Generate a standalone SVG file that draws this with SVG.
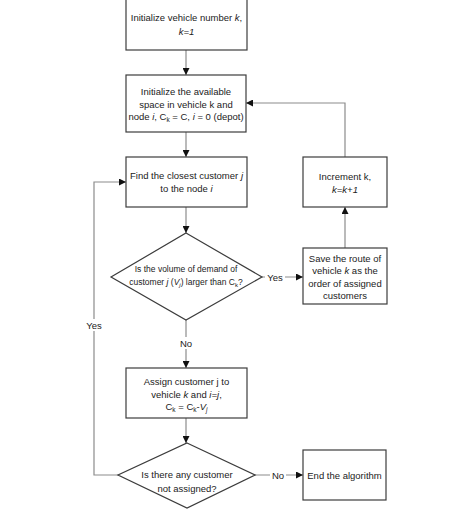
<svg xmlns="http://www.w3.org/2000/svg" width="474" height="514" viewBox="0 0 474 514">
<style>
.box{fill:#fff;stroke:#3c3c3c;stroke-width:1.2}
.t{font-family:"Liberation Sans",Arial,sans-serif;font-size:9.5px;fill:#222;text-anchor:middle}
.d{font-family:"Liberation Sans",Arial,sans-serif;font-size:8.5px;fill:#222;text-anchor:middle}
.c{fill:none;stroke:#8c8c8c;stroke-width:1.2}
.lbl{font-family:"Liberation Sans",Arial,sans-serif;font-size:9.5px;fill:#222;text-anchor:middle}
</style>
<defs>
<marker id="ah" viewBox="0 0 10 10" refX="10" refY="5" markerWidth="7" markerHeight="7" markerUnits="userSpaceOnUse" orient="auto">
<path d="M0,0 L10,5 L0,10 z" fill="#111"/>
</marker>
</defs>
<rect width="474" height="514" fill="#fff"/>
<g id="connectors">
<line class="c" x1="186" y1="50" x2="186" y2="75" marker-end="url(#ah)"/>
<line class="c" x1="186" y1="132" x2="186" y2="157" marker-end="url(#ah)"/>
<line class="c" x1="186" y1="207" x2="186" y2="233" marker-end="url(#ah)"/>
<line class="c" x1="262" y1="277" x2="303" y2="277" marker-end="url(#ah)"/>
<line class="c" x1="345" y1="248" x2="345" y2="207" marker-end="url(#ah)"/>
<polyline class="c" points="345,157 345,103 246,103" marker-end="url(#ah)"/>
<line class="c" x1="186" y1="320" x2="186" y2="368" marker-end="url(#ah)"/>
<line class="c" x1="186" y1="418" x2="186" y2="443" marker-end="url(#ah)"/>
<line class="c" x1="254" y1="475" x2="303" y2="475" marker-end="url(#ah)"/>
<polyline class="c" points="119,475 94,475 94,182 126,182" marker-end="url(#ah)"/>
<rect x="265" y="271" width="20" height="12" fill="#fff"/>
<text class="lbl" x="275" y="280.5">Yes</text>
<rect x="177" y="337" width="18" height="12" fill="#fff"/>
<text class="lbl" x="186" y="346.5">No</text>
<rect x="84" y="319" width="20" height="12" fill="#fff"/>
<text class="lbl" x="94" y="328.5">Yes</text>
<rect x="270" y="469" width="16" height="12" fill="#fff"/>
<text class="lbl" x="278" y="478.5">No</text>
</g>
<g id="n1">
<rect class="box" x="126" y="-2" width="121" height="52"/>
<text class="t" x="186.5" y="21">Initialize vehicle number <tspan font-style="italic">k</tspan>,</text>
<text class="t" x="186.5" y="35" font-style="italic">k=1</text>
</g>
<g id="n2">
<rect class="box" x="126" y="75" width="120" height="57"/>
<text class="t" x="186" y="95">Initialize the available</text>
<text class="t" x="186" y="107.5">space in vehicle k and</text>
<text class="t" x="186" y="120">node <tspan font-style="italic">i</tspan>, C<tspan font-size="6.5px" dy="2">k</tspan><tspan dy="-2"> = C, </tspan><tspan font-style="italic">i</tspan> = 0 (depot)</text>
</g>
<g id="n3">
<rect class="box" x="126" y="157" width="121" height="50"/>
<text class="t" x="186.5" y="179">Find the closest customer <tspan font-style="italic">j</tspan></text>
<text class="t" x="186.5" y="191.5">to the node <tspan font-style="italic">i</tspan></text>
</g>
<g id="n4">
<polygon class="box" points="186,233 262,277 186,320 111,277"/>
<text class="d" x="186" y="272">Is the volume of demand of</text>
<text class="d" x="186" y="285">customer <tspan font-style="italic">j</tspan> (<tspan font-style="italic">V<tspan font-size="6px" dy="2">j</tspan></tspan><tspan dy="-2">) larger than C</tspan><tspan font-size="6px" dy="2">k</tspan><tspan dy="-2">?</tspan></text>
</g>
<g id="n5">
<rect class="box" x="303" y="248" width="84" height="56"/>
<text class="t" x="345" y="261.5">Save the route of</text>
<text class="t" x="345" y="274">vehicle <tspan font-style="italic">k</tspan> as the</text>
<text class="t" x="345" y="286.5">order of assigned</text>
<text class="t" x="345" y="299">customers</text>
</g>
<g id="n6">
<rect class="box" x="303" y="157" width="84" height="50"/>
<text class="t" x="345" y="180">Increment k,</text>
<text class="t" x="345" y="192.5" font-style="italic">k=k+1</text>
</g>
<g id="n7">
<rect class="box" x="126" y="368" width="121" height="50"/>
<text class="t" x="186.5" y="385">Assign customer j to</text>
<text class="t" x="186.5" y="397.5">vehicle <tspan font-style="italic">k</tspan> and <tspan font-style="italic">i=j</tspan>,</text>
<text class="t" x="186.5" y="410">C<tspan font-size="6.5px" dy="2">k</tspan><tspan dy="-2"> = C</tspan><tspan font-size="6.5px" dy="2">k</tspan><tspan dy="-2">-</tspan><tspan font-style="italic">V<tspan font-size="6.5px" dy="2">j</tspan></tspan></text>
</g>
<g id="n8">
<polygon class="box" points="187,443 255,475 187,508 118,475"/>
<text class="t" x="187" y="478">Is there any customer</text>
<text class="t" x="187" y="492" font-size="9px">not assigned?</text>
</g>
<g id="n9">
<rect class="box" x="303" y="450" width="83" height="50"/>
<text class="t" x="344.5" y="478.5">End the algorithm</text>
</g>
</svg>
